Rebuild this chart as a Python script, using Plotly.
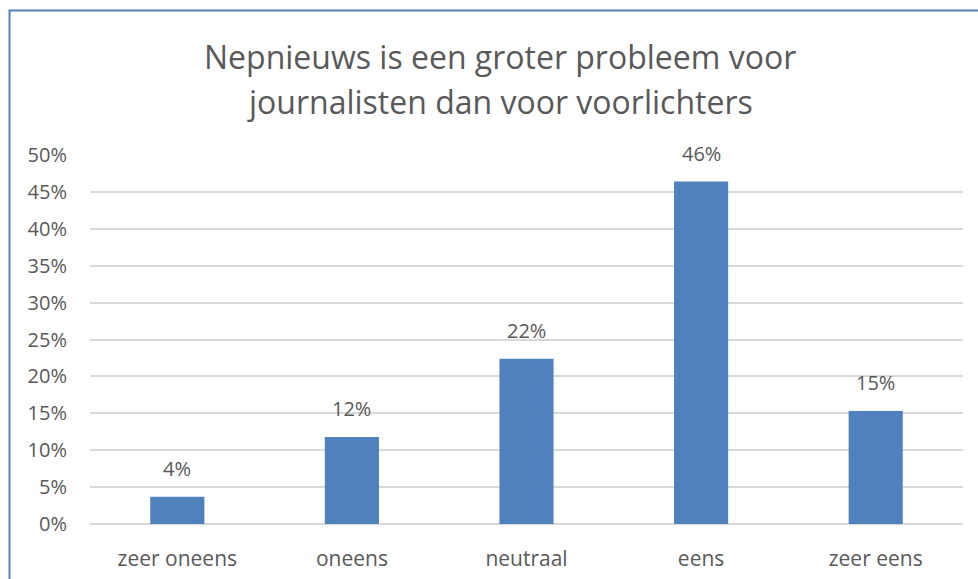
import plotly.graph_objects as go

categories = ["zeer oneens", "oneens", "neutraal", "eens", "zeer eens"]
shares = [0.037, 0.118, 0.224, 0.464, 0.153]
title_lines = ["Nepnieuws is een groter probleem voor", "journalisten dan voor voorlichters"]

BAR = "#4f81bd"
TXT = "#595959"
GRID = "#d9d9d9"
FONT = "Open Sans, Lato, sans-serif"

fig = go.Figure(
    go.Bar(
        x=categories,
        y=shares,
        marker=dict(color=BAR, line=dict(width=0)),
        hoverinfo="skip",
    )
)

# value labels above each bar
for c, v in zip(categories, shares):
    fig.add_annotation(
        x=c, y=v, text=f"{v:.0%}", showarrow=False,
        yanchor="bottom", yshift=13,
        font=dict(family=FONT, size=20, color=TXT),
    )

# two-line chart title
for text, ypos in zip(title_lines, [1.2656, 1.1463]):
    fig.add_annotation(
        x=0.47, y=ypos, xref="paper", yref="paper",
        text=text, showarrow=False, xanchor="center", yanchor="middle",
        font=dict(family=FONT, size=32, color=TXT),
    )

# outer chart frame (left and top edges visible)
fig.add_shape(
    type="rect", xref="paper", yref="paper",
    x0=-0.0922, x1=1.2, y0=-0.3, y1=1.3916,
    line=dict(color=BAR, width=2), fillcolor="rgba(0,0,0,0)", layer="below",
)

fig.update_layout(
    width=978, height=579,
    margin=dict(l=90, r=15, t=155, b=55),
    paper_bgcolor="white", plot_bgcolor="white",
    bargap=0.69,
    showlegend=False,
    font=dict(family=FONT, color=TXT),
)

fig.update_yaxes(
    range=[0, 0.5], dtick=0.05, tickformat=".0%",
    showgrid=True, gridcolor=GRID, gridwidth=1.5,
    zeroline=True, zerolinecolor=GRID, zerolinewidth=1.5,
    showline=False, ticks="", ticklabelstandoff=22,
    tickfont=dict(family=FONT, size=20, color=TXT),
    automargin=False, fixedrange=True,
)
fig.update_xaxes(
    showline=False, ticks="", ticklabelstandoff=20,
    tickfont=dict(family=FONT, size=21, color=TXT),
    automargin=False, fixedrange=True,
)

fig.write_html("out.html")
